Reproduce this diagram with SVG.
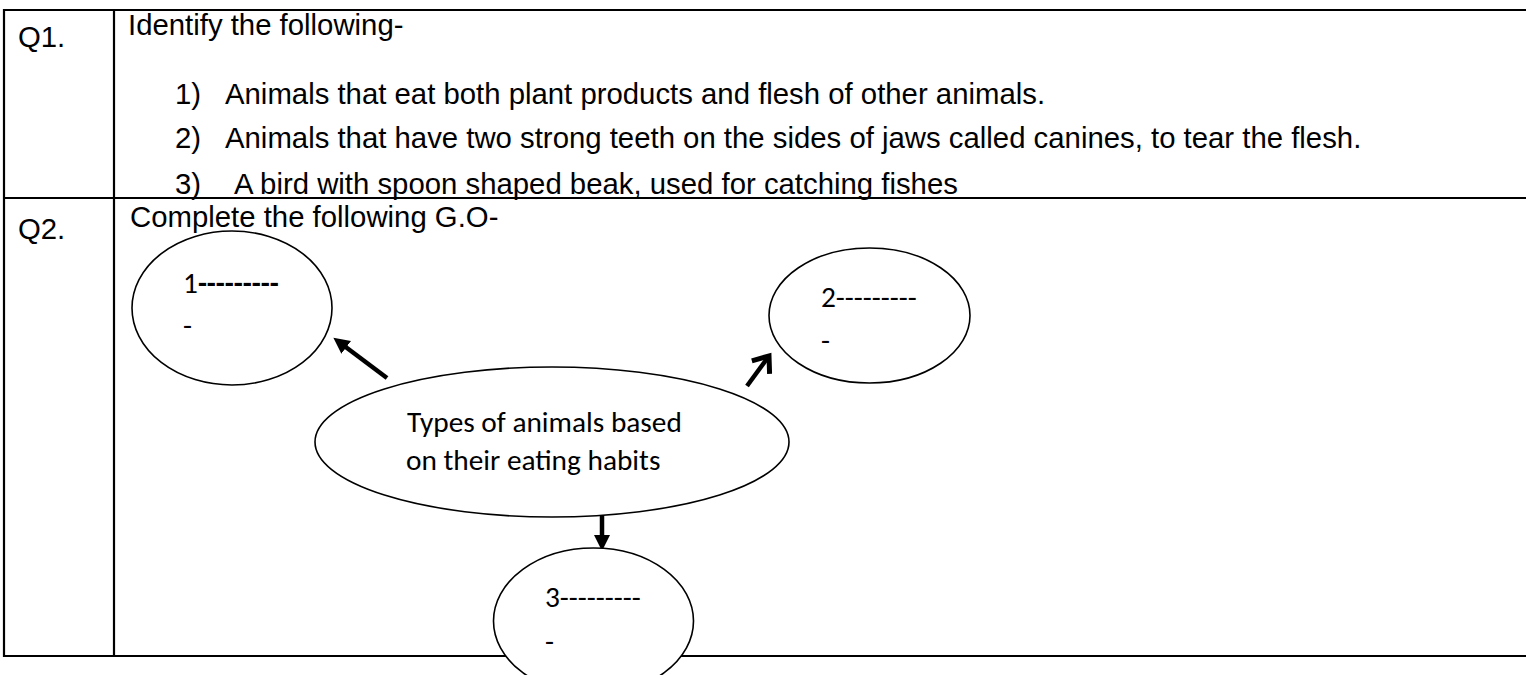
<svg xmlns="http://www.w3.org/2000/svg" width="1526" height="675" viewBox="0 0 1526 675">
<style>
.grid{stroke:#000;stroke-width:2.2;fill:none}
.t{font-family:"Liberation Sans",Arial,sans-serif;font-size:29.33px;fill:#000}
.c{font-family:Carlito,Lato,"Liberation Sans",sans-serif;font-size:29.33px;fill:#000}
.ell{fill:#fff;stroke:#000;stroke-width:1.6}
.arr{stroke:#000;stroke-width:4.5;fill:none}
</style>
<defs>
<marker id="tri" markerUnits="userSpaceOnUse" markerWidth="18" markerHeight="18" refX="4" refY="8" orient="auto">
<path d="M0,0 L16,8 L0,16 z" fill="#000"/>
</marker>
<marker id="chev" markerUnits="userSpaceOnUse" markerWidth="24" markerHeight="26" refX="17" refY="13" orient="auto">
<path d="M3,2 L17,13 L3,24" fill="none" stroke="#000" stroke-width="5" stroke-linejoin="miter"/>
</marker>
</defs>
<g id="table">
<line class="grid" x1="4" y1="10" x2="1526" y2="10"/>
<line class="grid" x1="4" y1="198" x2="1526" y2="198"/>
<line class="grid" x1="4" y1="656" x2="1526" y2="656"/>
<line class="grid" x1="4" y1="9" x2="4" y2="657"/>
<line class="grid" x1="114" y1="10" x2="114" y2="656"/>
</g>
<g id="q1">
<text class="t" x="18" y="47">Q1.</text>
<text class="t" x="128" y="35">Identify the following-</text>
<text class="t" x="175" y="104">1)</text>
<text class="t" x="225" y="104">Animals that eat both plant products and flesh of other animals.</text>
<text class="t" x="175" y="148">2)</text>
<text class="t" x="225" y="148">Animals that have two strong teeth on the sides of jaws called canines, to tear the flesh.</text>
<text class="t" x="175" y="194">3)</text>
<text class="t" x="234" y="194">A bird with spoon shaped beak, used for catching fishes</text>
</g>
<g id="q2">
<text class="t" x="18" y="239">Q2.</text>
<text class="t" x="130" y="227">Complete the following G.O-</text>
</g>
<g id="connectors">
<path class="arr" d="M387,378 L343,345" marker-end="url(#tri)"/>
<path class="arr" d="M747,386 L769,356" marker-end="url(#chev)"/>
<path class="arr" d="M602,511 L602,539" marker-end="url(#tri)"/>
</g>
<g id="node-1">
<ellipse class="ell" cx="232" cy="308" rx="100" ry="77"/>
<text class="c" x="183" y="293">1<tspan font-weight="bold">---------</tspan></text>
<text class="c" x="183" y="335">-</text>
</g>
<g id="node-2">
<ellipse class="ell" cx="869.5" cy="315.5" rx="100.5" ry="67.5"/>
<text class="c" x="821" y="307">2---------</text>
<text class="c" x="821" y="350">-</text>
</g>
<g id="node-center">
<ellipse class="ell" cx="552" cy="442" rx="237" ry="75"/>
<text class="c" x="407" y="432">Types of animals based</text>
<text class="c" x="406" y="470">on their eating habits</text>
</g>
<g id="node-3">
<ellipse class="ell" cx="593.5" cy="621" rx="100" ry="73"/>
<text class="c" x="545" y="607">3---------</text>
<text class="c" x="545" y="651">-</text>
</g>
</svg>
